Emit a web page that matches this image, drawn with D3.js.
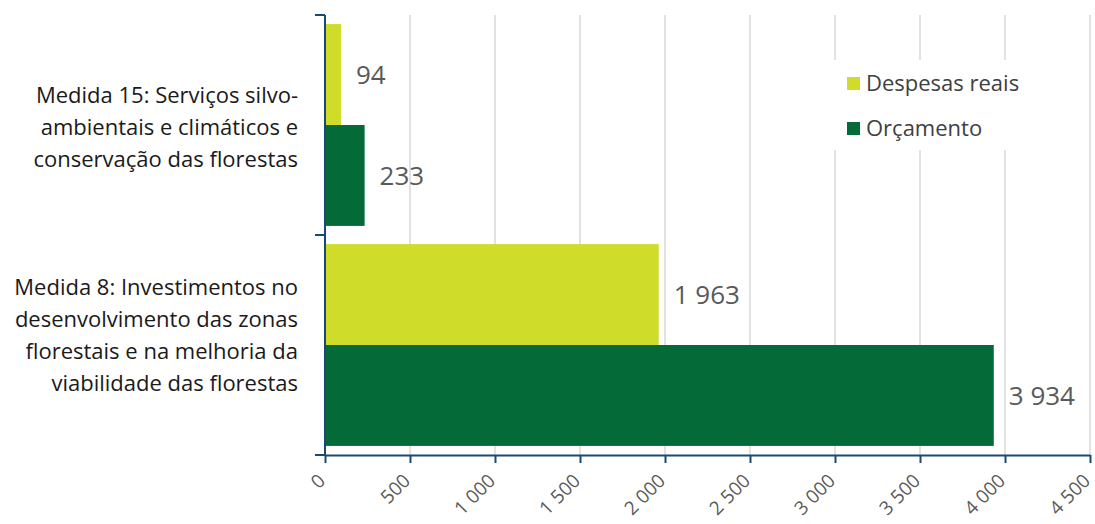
<!DOCTYPE html>
<html><head><meta charset="utf-8">
<script src="https://cdn.jsdelivr.net/npm/d3@7/dist/d3.min.js"></script>
<style>body{margin:0;background:#fff;} svg{display:block;font-family:"Open Sans",sans-serif;}</style>
</head><body>
<svg id="c" width="1095" height="524"></svg>
<script>
const categories = ["Medida 15: Serviços silvo-ambientais e climáticos e conservação das florestas",
  "Medida 8: Investimentos no desenvolvimento das zonas florestais e na melhoria da viabilidade das florestas"];
const categoryLines = [
  ["Medida 15: Serviços silvo-", "ambientais e climáticos e", "conservação das florestas"],
  ["Medida 8: Investimentos no", "desenvolvimento das zonas", "florestais e na melhoria da", "viabilidade das florestas"]
];
const seriesNames = ["Despesas reais", "Orçamento"];
const despesasReais = [94, 1963];
const orcamento = [233, 3934];
const xTicks = [0, 500, 1000, 1500, 2000, 2500, 3000, 3500, 4000, 4500];
const colors = ["#cfdc29", "#046a38"];

const svg = d3.select("#c");
const mLeft = 325, mRight = 1090, mTop = 15, mBottom = 455;
const x = d3.scaleLinear().domain([0, 4500]).range([mLeft, mRight]);
const y = d3.scaleBand().domain(categories).range([mTop, mBottom]).paddingInner(0).paddingOuter(0);
const inner = d3.scaleBand().domain(seriesNames).range([0, y.bandwidth()]).paddingInner(0).paddingOuter(0.09);
const fmt = v => d3.format(",")(v).replace(/,/g, " ");

// gridlines
svg.append("g").selectAll("line").data(xTicks.filter(d => d > 0)).join("line")
  .attr("x1", d => x(d)).attr("x2", d => x(d)).attr("y1", mTop).attr("y2", mBottom)
  .attr("stroke", "#d9d9d9").attr("stroke-width", 1.5);

// legend background
const lg = svg.append("g");
lg.append("rect").attr("x", 833).attr("y", 60).attr("width", 178).attr("height", 90).attr("fill", "#fff");

// bars
const series = [despesasReais, orcamento];
const g = svg.append("g");
categories.forEach((c, i) => {
  series.forEach((s, j) => {
    const yy = y(c) + inner(seriesNames[j]);
    g.append("rect").attr("x", x(0)).attr("y", yy).attr("width", x(s[i]) - x(0)).attr("height", inner.bandwidth())
      .attr("fill", colors[j]);
    g.append("text").attr("x", x(s[i]) + 15).attr("y", yy + inner.bandwidth() / 2).attr("dy", "0.35em")
      .attr("font-size", 26).attr("fill", "#595959").text(fmt(s[i]));
  });
});

// y axis
svg.append("line").attr("x1", mLeft).attr("x2", mLeft).attr("y1", mTop).attr("y2", mBottom + 1)
  .attr("stroke", "#1a4a72").attr("stroke-width", 2);
const bounds = [mTop, ...categories.map(c => y(c) + y.bandwidth())];
svg.append("g").selectAll("line").data(bounds).join("line")
  .attr("x1", mLeft - 10).attr("x2", mLeft).attr("y1", d => d).attr("y2", d => d)
  .attr("stroke", "#1a4a72").attr("stroke-width", 2);

// x axis
const xa = svg.append("g").attr("transform", `translate(0,${mBottom})`)
  .call(d3.axisBottom(x).tickValues(xTicks).tickSize(8).tickSizeOuter(0).tickFormat(fmt));
xa.select(".domain").attr("stroke", "#1a4a72").attr("stroke-width", 2);
xa.selectAll(".tick line").attr("stroke", "#1a4a72").attr("stroke-width", 2);
xa.selectAll(".tick text").attr("font-size", 19).attr("fill", "#595959").attr("font-family", "Open Sans")
  .attr("text-anchor", "end").attr("dy", 0).attr("y", 0)
  .attr("transform", "translate(1,27) rotate(-45)");

// category labels
const labelShift = [2, -10];
categories.forEach((c, i) => {
  const lines = categoryLines[i];
  const cy = y(c) + y.bandwidth() / 2 + labelShift[i];
  const lh = 32;
  const t = svg.append("text").attr("text-anchor", "end").attr("font-size", 22).attr("fill", "#1a1a1a");
  lines.forEach((l, k) => {
    t.append("tspan").attr("x", 298).attr("y", cy + (k - (lines.length - 1) / 2) * lh).attr("dy", "0.35em").text(l);
  });
});

// legend
seriesNames.forEach((n, j) => {
  const ly = 83 + j * 45;
  lg.append("rect").attr("x", 847).attr("y", ly - 6).attr("width", 13).attr("height", 13).attr("fill", colors[j]);
  lg.append("text").attr("x", 866).attr("y", ly).attr("dy", "0.35em").attr("font-size", 22).attr("fill", "#404040").text(n);
});
</script>
</body></html>
